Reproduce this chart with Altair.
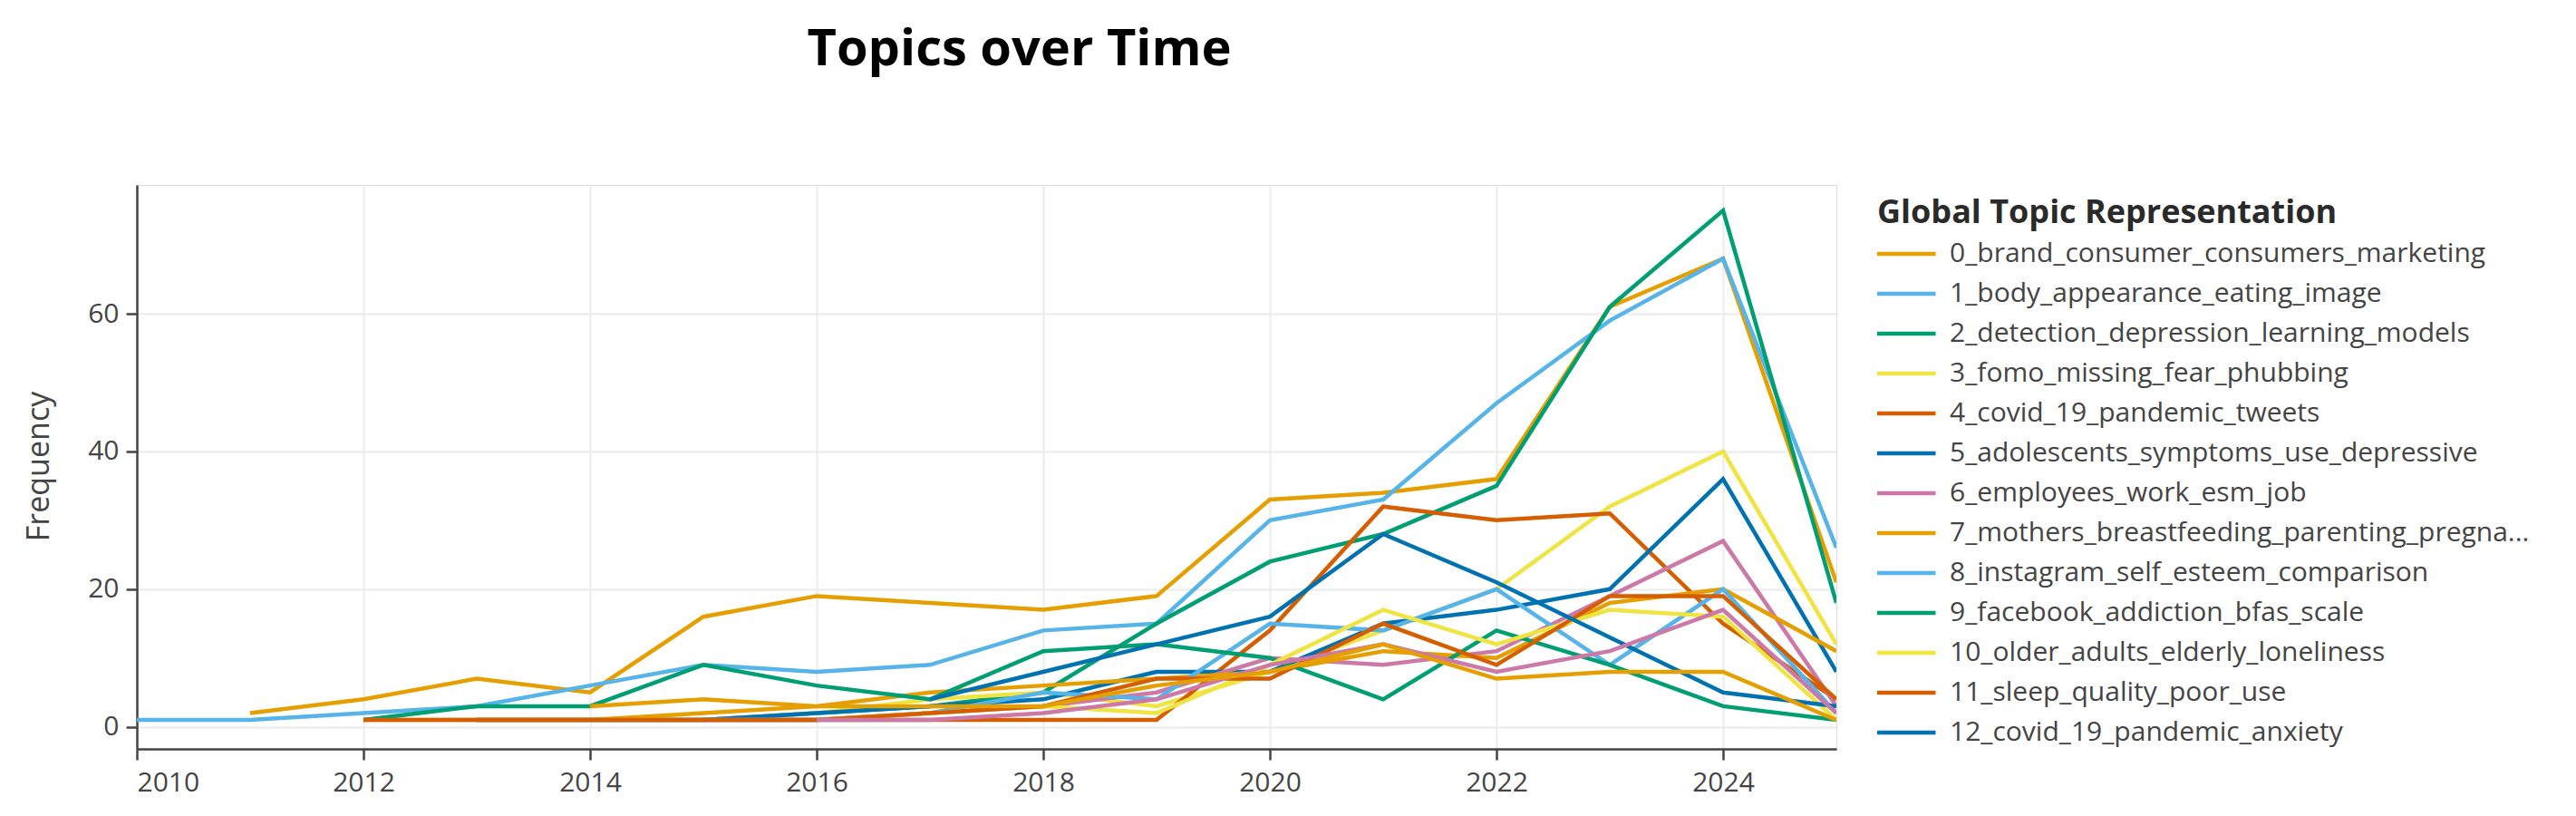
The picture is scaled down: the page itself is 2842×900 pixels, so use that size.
import altair as alt
import pandas as pd

years = list(range(2010, 2026))

topic_names = [
    "0_brand_consumer_consumers_marketing",
    "1_body_appearance_eating_image",
    "2_detection_depression_learning_models",
    "3_fomo_missing_fear_phubbing",
    "4_covid_19_pandemic_tweets",
    "5_adolescents_symptoms_use_depressive",
    "6_employees_work_esm_job",
    "7_mothers_breastfeeding_parenting_pregna...",
    "8_instagram_self_esteem_comparison",
    "9_facebook_addiction_bfas_scale",
    "10_older_adults_elderly_loneliness",
    "11_sleep_quality_poor_use",
    "12_covid_19_pandemic_anxiety",
    "Topic 13",
    "Topic 14",
]
legend_names = topic_names[:13]

#     2010  2011  2012  2013  2014  2015  2016  2017  2018  2019  2020  2021  2022  2023  2024  2025
t0 = [None, 2, 4, 7, 5, 16, 19, 18, 17, 19, 33, 34, 36, 61, 68, 21]
t1 = [1, 1, 2, 3, 6, 9, 8, 9, 14, 15, 30, 33, 47, 59, 68, 26]
t2 = [None, None, None, None, None, 1, 2, 3, 5, 15, 24, 28, 35, 61, 75, 18]
t3 = [None, None, None, None, 1, 1, 2, 4, 5, 3, 8, 14, 20, 32, 40, 12]
t4 = [None, None, None, 1, 1, 1, 1, 1, 1, 1, 14, 32, 30, 31, 15, 4]
t5 = [None, None, None, 1, 1, 1, 2, 3, 4, 8, 8, 15, 17, 20, 36, 8]
t6 = [None, None, None, None, None, 1, 1, 2, 3, 5, 10, 9, 11, 19, 27, 3]
t7 = [None, None, 1, 1, 1, 2, 3, 5, 6, 7, 8, 11, 10, 18, 20, 11]
t8 = [None, None, None, None, None, 1, 1, 2, 5, 4, 15, 14, 20, 9, 20, 2]
t9 = [None, None, 1, 3, 3, 9, 6, 4, 11, 12, 10, 4, 14, 9, 3, 1]
t10 = [None, None, None, None, None, None, 1, 2, 3, 2, 9, 17, 12, 17, 16, 1]
t11 = [None, None, 1, 1, 1, 1, 1, 2, 3, 7, 7, 15, 9, 19, 19, 4]
t12 = [None, None, None, None, None, None, None, 4, 8, 12, 16, 28, 21, 13, 5, 3]
t13 = [None, None, None, None, None, None, 1, 1, 2, 4, 9, 12, 8, 11, 17, 2]
t14 = [None, None, None, None, 3, 4, 3, 3, 3, 6, 8, 12, 7, 8, 8, 1]

series = [t0, t1, t2, t3, t4, t5, t6, t7, t8, t9, t10, t11, t12, t13, t14]

palette = ["#E69F00", "#56B4E9", "#009E73", "#F0E442", "#D55E00", "#0072B2", "#CC79A7"]
colors = [palette[i % len(palette)] for i in range(len(topic_names))]

rows = []
for i, (name, vals) in enumerate(zip(topic_names, series)):
    for y, v in zip(years, vals):
        if v is not None:
            rows.append({"Timestamp": y, "Frequency": v, "Topic": name, "order": i})
df = pd.DataFrame(rows)

FONT = "Open Sans"

chart = (
    alt.Chart(df)
    .mark_line(strokeWidth=4.5, clip=True)
    .encode(
        x=alt.X(
            "Timestamp:Q",
            scale=alt.Scale(domain=[2010, 2025], nice=False, zero=False),
            axis=alt.Axis(
                title=None,
                values=list(range(2010, 2025, 2)),
                format="d",
                grid=True,
                gridColor="#ebebeb",
                gridWidth=2,
                domainColor="#444444",
                domainWidth=2.5,
                tickColor="#444444",
                tickWidth=2.5,
                tickSize=12,
                labelFont=FONT,
                labelFontSize=30,
                labelColor="#444444",
                labelPadding=10,
            ),
        ),
        y=alt.Y(
            "Frequency:Q",
            scale=alt.Scale(domain=[-3.2, 78.7], nice=False, zero=False),
            axis=alt.Axis(
                title="Frequency",
                values=[0, 20, 40, 60],
                grid=True,
                gridColor="#ebebeb",
                gridWidth=2,
                domainColor="#444444",
                domainWidth=2.5,
                tickColor="#444444",
                tickWidth=2.5,
                tickSize=12,
                labelFont=FONT,
                labelFontSize=30,
                labelColor="#444444",
                labelPadding=8,
                titleFont=FONT,
                titleFontSize=34,
                titleFontWeight="normal",
                titleColor="#444444",
                titleX=-108,
                titleY=310,
                titleAngle=270,
                titleAlign="center",
                titleBaseline="middle",
            ),
        ),
        color=alt.Color(
            "Topic:N",
            scale=alt.Scale(domain=topic_names, range=colors),
            legend=alt.Legend(
                title="Global Topic Representation",
                values=legend_names,
                orient="none",
                legendX=1920,
                legendY=14,
                padding=0,
                titleFont=FONT,
                titleFontSize=36,
                titleFontWeight="bold",
                titleColor="#2a2a2a",
                titleLimit=2000,
                titlePadding=11,
                labelFont=FONT,
                labelFontSize=30,
                labelColor="#444444",
                labelLimit=0,
                labelOffset=13,
                symbolType="stroke",
                symbolSize=4624,
                symbolStrokeWidth=4.5,
                symbolOffset=-6,
                clipHeight=30,
                rowPadding=14,
            ),
        ),
        order=alt.Order("order:Q"),
        detail="Topic:N",
    )
    .properties(
        width=1875,
        height=622,
        title=alt.TitleParams(
            "Topics over Time",
            font=FONT,
            fontSize=56,
            fontWeight="bold",
            color="#000000",
            anchor="middle",
            frame="group",
            dx=36,
            offset=76,
            baseline="alphabetic",
        ),
        autosize=alt.AutoSizeParams(type="none"),
        padding={"left": 143, "top": 196, "right": 800, "bottom": 60},
    )
    .configure_view(stroke=None)
    .configure(background="white")
)

chart.save("out.html", embed_options={"renderer": "svg", "actions": False})
